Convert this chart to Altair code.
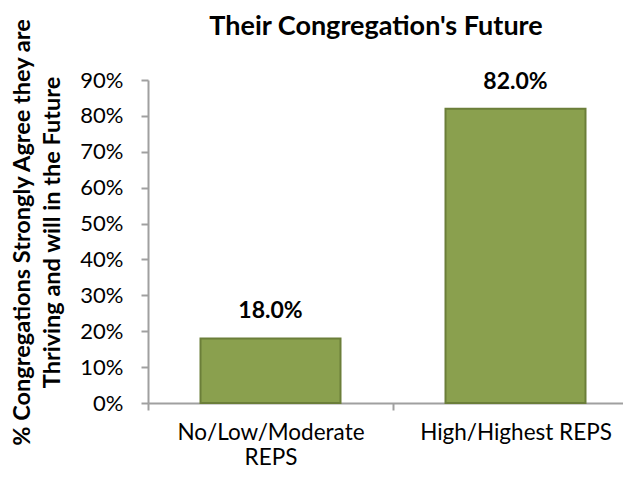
import altair as alt
import pandas as pd

title_text = ["Their Congregation's Future"]
categories = ["No/Low/Moderate REPS", "High/Highest REPS"]
values = [0.18, 0.82]
value_labels = ["18.0%", "82.0%"]
y_ticks = [0, 0.1, 0.2, 0.3, 0.4, 0.5, 0.6, 0.7, 0.8, 0.9]

df = pd.DataFrame({"cat": categories, "val": values, "lab": value_labels})
df_title = pd.DataFrame({"t": title_text})

FONT = "Lato"
AXIS_COLOR = "#A0A0A0"

x = alt.X(
    "cat:N",
    sort=categories,
    scale=alt.Scale(paddingInner=0, paddingOuter=0, range=[0, 490]),
    axis=alt.Axis(
        title=None,
        labelAngle=0,
        labelFont=FONT,
        labelFontSize=22.5,
        labelColor="#000000",
        labelPadding=11,
        labelLineHeight=25,
        labelLimit=400,
        labelBaseline="top",
        labelExpr="datum.value == 'No/Low/Moderate REPS' ? ['No/Low/Moderate', 'REPS'] : datum.value",
        tickBand="extent",
        domainColor=AXIS_COLOR,
        domainWidth=2,
        tickColor=AXIS_COLOR,
        tickWidth=2,
        tickSize=7,
    ),
)

y = alt.Y(
    "val:Q",
    scale=alt.Scale(domain=[0, 0.9], nice=False),
    axis=alt.Axis(
        values=y_ticks,
        format=".0%",
        grid=False,
        labelOverlap=False,
        labelFont=FONT,
        labelFontSize=22,
        labelColor="#000000",
        labelPadding=18,
        domainColor=AXIS_COLOR,
        domainWidth=2,
        tickColor=AXIS_COLOR,
        tickWidth=2,
        tickSize=7,
        title=["% Congregations Strongly Agree they are", "Thriving and will in the Future"],
        titleFont=FONT,
        titleFontSize=23.5,
        titleFontWeight="bold",
        titleColor="#000000",
        titleAngle=-90,
        titleBaseline="top",
        titleAlign="center",
        titleLineHeight=30,
        titleX=-138,
        titleY=152,
    ),
)

bars = alt.Chart(df).mark_bar(
    width=140, color="#8AA04E", stroke="#6B7E39", strokeWidth=2
).encode(x=x, y=y)

labels = alt.Chart(df).mark_text(
    font=FONT, fontSize=23, fontWeight="bold", color="#000000",
    baseline="alphabetic", dy=-20
).encode(x=x, y=y, text="lab:N")

title = alt.Chart(df_title).mark_text(
    font=FONT, fontSize=27, fontWeight="bold", color="#000000",
    align="center", baseline="alphabetic"
).encode(x=alt.value(228), y=alt.value(-45), text="t:N")

chart = alt.layer(bars, labels, title).properties(
    width=475,
    height=323,
    autosize=alt.AutoSizeParams(type="none"),
    padding={"left": 140, "top": 72, "right": 0, "bottom": 66},
).configure_view(stroke=None)

chart.save("out.html", embed_options={"renderer": "svg", "actions": False})
